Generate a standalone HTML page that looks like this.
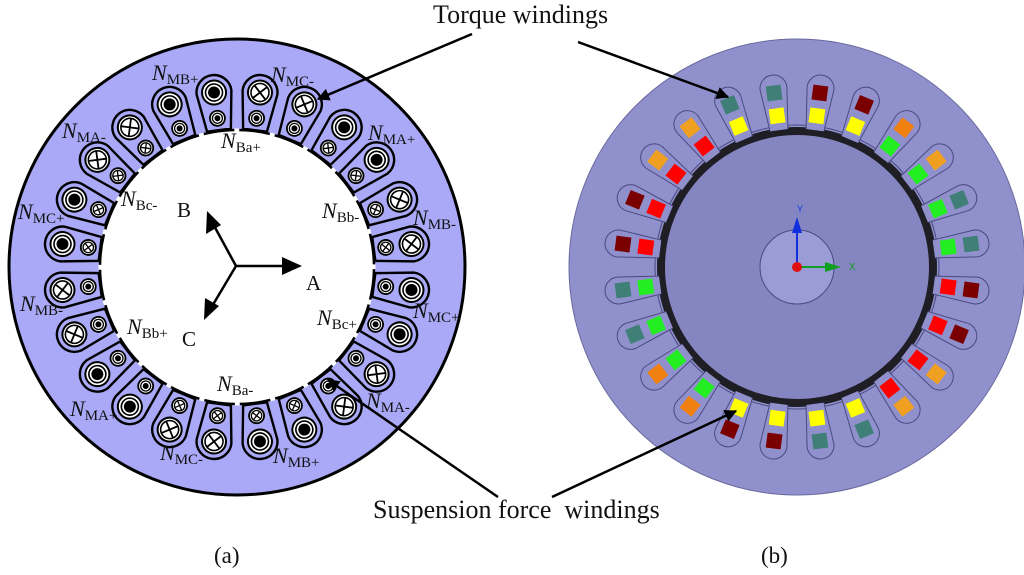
<!DOCTYPE html>
<html><head><meta charset="utf-8"><style>
html,body{margin:0;padding:0;background:#fff;}
svg{display:block;}
.n{font-family:"Liberation Serif",serif;font-style:italic;font-size:22px;fill:#111;}
.s{font-style:normal;font-size:15px;}
.t{font-family:"Liberation Serif",serif;fill:#111;}
</style></head><body>
<svg width="1024" height="575" viewBox="0 0 1024 575" xmlns="http://www.w3.org/2000/svg">
<defs>
<path id="LS" d="M -12,-138 L -17.5,-176 A 17.5 17.5 0 0 1 17.5,-176 L 12,-138 Z" fill="#a9a9f7" stroke="#000" stroke-width="2.4"/>
<g id="BD"><circle r="12" fill="#fff" stroke="#000" stroke-width="2"/><circle r="8.5" fill="#fff" stroke="#000" stroke-width="1.6"/><circle r="6" fill="#000"/></g>
<g id="BX"><circle r="12" fill="#fff" stroke="#000" stroke-width="2"/><circle r="9" fill="#fff" stroke="#000" stroke-width="1.6"/><path d="M-6.4,-6.4 L6.4,6.4 M-6.4,6.4 L6.4,-6.4" stroke="#000" stroke-width="1.8"/></g>
<g id="SD"><circle r="7.5" fill="#fff" stroke="#000" stroke-width="1.8"/><circle r="5" fill="#fff" stroke="#000" stroke-width="1.3"/><circle r="3" fill="#000"/></g>
<g id="SX"><circle r="7.5" fill="#fff" stroke="#000" stroke-width="1.8"/><circle r="5.2" fill="#fff" stroke="#000" stroke-width="1.3"/><path d="M-3.7,-3.7 L3.7,3.7 M-3.7,3.7 L3.7,-3.7" stroke="#000" stroke-width="1.3"/></g>
<path id="RS" d="M -9,-138 L -13.5,-180 A 13.5 13.5 0 0 1 13.5,-180 L 9,-138" fill="#9090cc" stroke="#4a4a80" stroke-width="1"/>
<marker id="ah" viewBox="0 0 10 10" refX="9" refY="5" markerWidth="5" markerHeight="5" orient="auto"><path d="M0,0 L10,5 L0,10 Z" fill="#000"/></marker>
</defs>

<!-- LEFT -->
<circle cx="237" cy="267" r="228" fill="#a9a9f7" stroke="#000" stroke-width="3"/>
<g transform="translate(237,267)">
<g transform="rotate(7.5)"><use href="#LS"/><use href="#BX" y="-176"/><use href="#SD" y="-150"/></g>
<g transform="rotate(22.5)"><use href="#LS"/><use href="#BX" y="-176"/><use href="#SD" y="-150"/></g>
<g transform="rotate(37.5)"><use href="#LS"/><use href="#BD" y="-176"/><use href="#SX" y="-150"/></g>
<g transform="rotate(52.5)"><use href="#LS"/><use href="#BD" y="-176"/><use href="#SX" y="-150"/></g>
<g transform="rotate(67.5)"><use href="#LS"/><use href="#BX" y="-176"/><use href="#SX" y="-150"/></g>
<g transform="rotate(82.5)"><use href="#LS"/><use href="#BX" y="-176"/><use href="#SX" y="-150"/></g>
<g transform="rotate(97.5)"><use href="#LS"/><use href="#BD" y="-176"/><use href="#SD" y="-150"/></g>
<g transform="rotate(112.5)"><use href="#LS"/><use href="#BD" y="-176"/><use href="#SD" y="-150"/></g>
<g transform="rotate(127.5)"><use href="#LS"/><use href="#BX" y="-176"/><use href="#SD" y="-150"/></g>
<g transform="rotate(142.5)"><use href="#LS"/><use href="#BX" y="-176"/><use href="#SD" y="-150"/></g>
<g transform="rotate(157.5)"><use href="#LS"/><use href="#BD" y="-176"/><use href="#SX" y="-150"/></g>
<g transform="rotate(172.5)"><use href="#LS"/><use href="#BD" y="-176"/><use href="#SX" y="-150"/></g>
<g transform="rotate(187.5)"><use href="#LS"/><use href="#BX" y="-176"/><use href="#SX" y="-150"/></g>
<g transform="rotate(202.5)"><use href="#LS"/><use href="#BX" y="-176"/><use href="#SX" y="-150"/></g>
<g transform="rotate(217.5)"><use href="#LS"/><use href="#BD" y="-176"/><use href="#SD" y="-150"/></g>
<g transform="rotate(232.5)"><use href="#LS"/><use href="#BD" y="-176"/><use href="#SD" y="-150"/></g>
<g transform="rotate(247.5)"><use href="#LS"/><use href="#BX" y="-176"/><use href="#SD" y="-150"/></g>
<g transform="rotate(262.5)"><use href="#LS"/><use href="#BX" y="-176"/><use href="#SD" y="-150"/></g>
<g transform="rotate(277.5)"><use href="#LS"/><use href="#BD" y="-176"/><use href="#SX" y="-150"/></g>
<g transform="rotate(292.5)"><use href="#LS"/><use href="#BD" y="-176"/><use href="#SX" y="-150"/></g>
<g transform="rotate(307.5)"><use href="#LS"/><use href="#BX" y="-176"/><use href="#SX" y="-150"/></g>
<g transform="rotate(322.5)"><use href="#LS"/><use href="#BX" y="-176"/><use href="#SX" y="-150"/></g>
<g transform="rotate(337.5)"><use href="#LS"/><use href="#BD" y="-176"/><use href="#SD" y="-150"/></g>
<g transform="rotate(352.5)"><use href="#LS"/><use href="#BD" y="-176"/><use href="#SD" y="-150"/></g>
<circle r="137" fill="#fff" stroke="#000" stroke-width="2.5"/>
<circle r="137" fill="none" stroke="#fff" stroke-width="3" stroke-dasharray="5 30.86" stroke-dashoffset="-33"/>
</g>

<!-- center phase arrows -->
<g stroke="#000" stroke-width="2.5" fill="none">
<line x1="236" y1="266" x2="288" y2="266"/>
<line x1="236" y1="266" x2="212" y2="222"/>
<line x1="236" y1="266" x2="211" y2="308"/>
</g>
<path d="M302,266 L282,257 L282,275 Z" fill="#000"/>
<path d="M207,211 L206,234 L221,225 Z" fill="#000"/>
<path d="M204,320 L219,306 L205,298 Z" fill="#000"/>
<text class="t" x="177" y="217" font-size="21">B</text>
<text class="t" x="306" y="290" font-size="21">A</text>
<text class="t" x="182" y="346" font-size="21">C</text>

<!-- labels -->
<text class="n" x="152" y="80">N<tspan class="s" dy="4">MB+</tspan></text>
<text class="n" x="271" y="82">N<tspan class="s" dy="4">MC-</tspan></text>
<text class="n" x="368" y="140">N<tspan class="s" dy="4">MA+</tspan></text>
<text class="n" x="62" y="138">N<tspan class="s" dy="4">MA-</tspan></text>
<text class="n" x="221" y="148" font-size="20">N<tspan class="s" dy="4">Ba+</tspan></text>
<text class="n" x="121" y="206" font-size="20">N<tspan class="s" dy="4">Bc-</tspan></text>
<text class="n" x="322" y="218" font-size="20">N<tspan class="s" dy="4">Bb-</tspan></text>
<text class="n" x="413" y="225">N<tspan class="s" dy="4">MB-</tspan></text>
<text class="n" x="18" y="219">N<tspan class="s" dy="4">MC+</tspan></text>
<text class="n" x="20" y="311">N<tspan class="s" dy="4">MB-</tspan></text>
<text class="n" x="127" y="334" font-size="20">N<tspan class="s" dy="4">Bb+</tspan></text>
<text class="n" x="317" y="325" font-size="20">N<tspan class="s" dy="4">Bc+</tspan></text>
<text class="n" x="413" y="318">N<tspan class="s" dy="4">MC+</tspan></text>
<text class="n" x="217" y="391" font-size="20">N<tspan class="s" dy="4">Ba-</tspan></text>
<text class="n" x="366" y="408">N<tspan class="s" dy="4">MA-</tspan></text>
<text class="n" x="70" y="416">N<tspan class="s" dy="4">MA+</tspan></text>
<text class="n" x="160" y="460">N<tspan class="s" dy="4">MC-</tspan></text>
<text class="n" x="273" y="463">N<tspan class="s" dy="4">MB+</tspan></text>

<!-- RIGHT -->
<circle cx="797" cy="267" r="228" fill="#9090cc" stroke="#6a6aa0" stroke-width="1"/>
<g transform="translate(797,267)">
<circle r="142" fill="none" stroke="#4a4a80" stroke-width="1"/>
<circle r="136" fill="#8585c2" stroke="#1e1e24" stroke-width="8"/>
<circle r="37" fill="#9b9bd8" stroke="#4a4a80" stroke-width="1"/>
<g>
<g transform="rotate(7.5)"><use href="#RS"/><rect x="-7.5" y="-183" width="15" height="15" fill="#7a0000"/><rect x="-7.5" y="-160" width="15" height="15" fill="#ffff00"/></g>
<g transform="rotate(22.5)"><use href="#RS"/><rect x="-7.5" y="-183" width="15" height="15" fill="#7a0000"/><rect x="-7.5" y="-160" width="15" height="15" fill="#ffff00"/></g>
<g transform="rotate(37.5)"><use href="#RS"/><rect x="-7.5" y="-183" width="15" height="15" fill="#f08010"/><rect x="-7.5" y="-160" width="15" height="15" fill="#22ee22"/></g>
<g transform="rotate(52.5)"><use href="#RS"/><rect x="-7.5" y="-183" width="15" height="15" fill="#f0a020"/><rect x="-7.5" y="-160" width="15" height="15" fill="#22ee22"/></g>
<g transform="rotate(67.5)"><use href="#RS"/><rect x="-7.5" y="-183" width="15" height="15" fill="#3f7f78"/><rect x="-7.5" y="-160" width="15" height="15" fill="#22ee22"/></g>
<g transform="rotate(82.5)"><use href="#RS"/><rect x="-7.5" y="-183" width="15" height="15" fill="#3f7f78"/><rect x="-7.5" y="-160" width="15" height="15" fill="#22ee22"/></g>
<g transform="rotate(97.5)"><use href="#RS"/><rect x="-7.5" y="-183" width="15" height="15" fill="#7a0000"/><rect x="-7.5" y="-160" width="15" height="15" fill="#ff0000"/></g>
<g transform="rotate(112.5)"><use href="#RS"/><rect x="-7.5" y="-183" width="15" height="15" fill="#7a0000"/><rect x="-7.5" y="-160" width="15" height="15" fill="#ff0000"/></g>
<g transform="rotate(127.5)"><use href="#RS"/><rect x="-7.5" y="-183" width="15" height="15" fill="#f0a020"/><rect x="-7.5" y="-160" width="15" height="15" fill="#ff0000"/></g>
<g transform="rotate(142.5)"><use href="#RS"/><rect x="-7.5" y="-183" width="15" height="15" fill="#f0a020"/><rect x="-7.5" y="-160" width="15" height="15" fill="#ff0000"/></g>
<g transform="rotate(157.5)"><use href="#RS"/><rect x="-7.5" y="-183" width="15" height="15" fill="#3f7f78"/><rect x="-7.5" y="-160" width="15" height="15" fill="#ffff00"/></g>
<g transform="rotate(172.5)"><use href="#RS"/><rect x="-7.5" y="-183" width="15" height="15" fill="#3f7f78"/><rect x="-7.5" y="-160" width="15" height="15" fill="#ffff00"/></g>
<g transform="rotate(187.5)"><use href="#RS"/><rect x="-7.5" y="-183" width="15" height="15" fill="#7a0000"/><rect x="-7.5" y="-160" width="15" height="15" fill="#ffff00"/></g>
<g transform="rotate(202.5)"><use href="#RS"/><rect x="-7.5" y="-183" width="15" height="15" fill="#7a0000"/><rect x="-7.5" y="-160" width="15" height="15" fill="#ffff00"/></g>
<g transform="rotate(217.5)"><use href="#RS"/><rect x="-7.5" y="-183" width="15" height="15" fill="#f08010"/><rect x="-7.5" y="-160" width="15" height="15" fill="#22ee22"/></g>
<g transform="rotate(232.5)"><use href="#RS"/><rect x="-7.5" y="-183" width="15" height="15" fill="#f08010"/><rect x="-7.5" y="-160" width="15" height="15" fill="#22ee22"/></g>
<g transform="rotate(247.5)"><use href="#RS"/><rect x="-7.5" y="-183" width="15" height="15" fill="#3f7f78"/><rect x="-7.5" y="-160" width="15" height="15" fill="#22ee22"/></g>
<g transform="rotate(262.5)"><use href="#RS"/><rect x="-7.5" y="-183" width="15" height="15" fill="#3f7f78"/><rect x="-7.5" y="-160" width="15" height="15" fill="#22ee22"/></g>
<g transform="rotate(277.5)"><use href="#RS"/><rect x="-7.5" y="-183" width="15" height="15" fill="#7a0000"/><rect x="-7.5" y="-160" width="15" height="15" fill="#ff0000"/></g>
<g transform="rotate(292.5)"><use href="#RS"/><rect x="-7.5" y="-183" width="15" height="15" fill="#7a0000"/><rect x="-7.5" y="-160" width="15" height="15" fill="#ff0000"/></g>
<g transform="rotate(307.5)"><use href="#RS"/><rect x="-7.5" y="-183" width="15" height="15" fill="#f0a020"/><rect x="-7.5" y="-160" width="15" height="15" fill="#ff0000"/></g>
<g transform="rotate(322.5)"><use href="#RS"/><rect x="-7.5" y="-183" width="15" height="15" fill="#f0a020"/><rect x="-7.5" y="-160" width="15" height="15" fill="#ff0000"/></g>
<g transform="rotate(337.5)"><use href="#RS"/><rect x="-7.5" y="-183" width="15" height="15" fill="#3f7f78"/><rect x="-7.5" y="-160" width="15" height="15" fill="#ffff00"/></g>
<g transform="rotate(352.5)"><use href="#RS"/><rect x="-7.5" y="-183" width="15" height="15" fill="#3f7f78"/><rect x="-7.5" y="-160" width="15" height="15" fill="#ffff00"/></g>
</g>
<line x1="0" y1="0" x2="0" y2="-36" stroke="#1030e0" stroke-width="2"/>
<path d="M0,-50 L-5,-34 L5,-34 Z" fill="#1030e0"/>
<line x1="0" y1="0" x2="30" y2="0" stroke="#10a020" stroke-width="2"/>
<path d="M44,0 L28,-5 L28,5 Z" fill="#10a020"/>
<circle r="5" fill="#e01010"/>
<text x="0" y="-55" font-family="Liberation Sans,sans-serif" font-size="9" fill="#1030e0">Y</text>
<text x="52" y="3" font-family="Liberation Sans,sans-serif" font-size="10" fill="#10a020">X</text>
</g>

<!-- callouts -->
<text class="t" x="433" y="23" font-size="26">Torque windings</text>
<g stroke="#000" stroke-width="2.5" marker-end="url(#ah)">
<line x1="472" y1="34" x2="318" y2="99"/>
<line x1="578" y1="42" x2="728" y2="97"/>
<line x1="498" y1="497" x2="328" y2="380"/>
<line x1="552" y1="497" x2="736" y2="411"/>
</g>
<text class="t" x="373" y="518" font-size="26" xml:space="preserve">Suspension force  windings</text>
<text class="t" x="214" y="563" font-size="23">(a)</text>
<text class="t" x="761" y="563" font-size="23">(b)</text>
</svg>
</body></html>
